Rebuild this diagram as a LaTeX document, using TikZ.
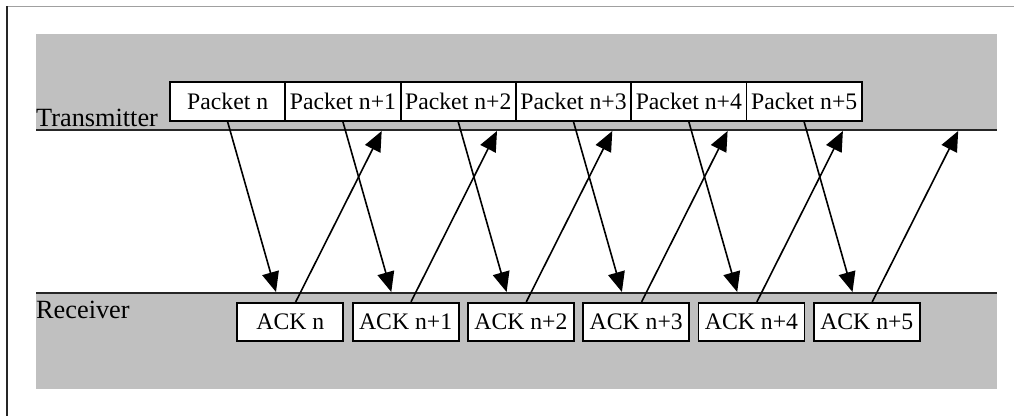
\documentclass[tikz,border=0pt]{standalone}
\usepackage{fontspec}
\setmainfont{Liberation Serif}
\usetikzlibrary{arrows.meta,calc}
\definecolor{band}{RGB}{192,192,192}
\definecolor{frameline}{RGB}{160,160,160}
\tikzset{
  pbox/.style={draw=black, line width=1.8pt, fill=white, minimum width=115.3pt, minimum height=39pt, inner sep=0pt, font=\fontsize{23.7}{28}\selectfont},
  abox/.style={draw=black, line width=1.8pt, fill=white, minimum width=106pt, minimum height=38.5pt, inner sep=0pt, font=\fontsize{23.7}{28}\selectfont},
  lbl/.style={anchor=base west, inner sep=0pt, font=\fontsize{26.3}{30}\selectfont},
  msg/.style={line width=1.6pt, -{Triangle[length=20pt,width=17pt]}},
  rail/.style={line width=2pt, draw=black!85}
}
\begin{document}
\begin{tikzpicture}[x=1pt,y=-1pt]
\useasboundingbox (0,0) rectangle (1014,416);
% frame
\draw[frameline, line width=1pt] (7,6) -- (1014,6);
\draw[black!85, line width=2.2pt] (7,6) -- (7,416);
% bands
\fill[band] (36,34) rectangle (997,130);
\fill[band] (36,293) rectangle (997,388.5);
\draw[rail] (36,130) -- (997,130);
\draw[rail] (36,293) -- (997,293);
% labels
\node[lbl] (tx) at (36,126) {Transmitter};
\node[lbl] (rx) at (36,318) {Receiver};
% packets
\node[pbox] (P0) at (227.65,101.5) {Packet n};
\node[pbox] (P1) at (342.95,101.5) {Packet n+1};
\node[pbox] (P2) at (458.25,101.5) {Packet n+2};
\node[pbox] (P3) at (573.55,101.5) {Packet n+3};
\node[pbox] (P4) at (688.85,101.5) {Packet n+4};
\node[pbox] (P5) at (804.15,101.5) {Packet n+5};
% acks
\node[abox] (A0) at (290.3,322) {ACK n};
\node[abox] (A1) at (405.6,322) {ACK n+1};
\node[abox] (A2) at (520.9,322) {ACK n+2};
\node[abox] (A3) at (636.2,322) {ACK n+3};
\node[abox] (A4) at (751.5,322) {ACK n+4};
\node[abox] (A5) at (866.8,322) {ACK n+5};
% arrow tips
\foreach \k in {0,...,5}{
  \coordinate (D\k) at (276+115.3*\k,292);
  \coordinate (U\k) at (381.7+115.3*\k,131);
}
\foreach \k in {0,...,5}{
  \draw[msg] (P\k.south) -- (D\k);
  \draw[msg] ($(A\k.north)+(5.4,0)$) -- (U\k);
}
\end{tikzpicture}
\end{document}
